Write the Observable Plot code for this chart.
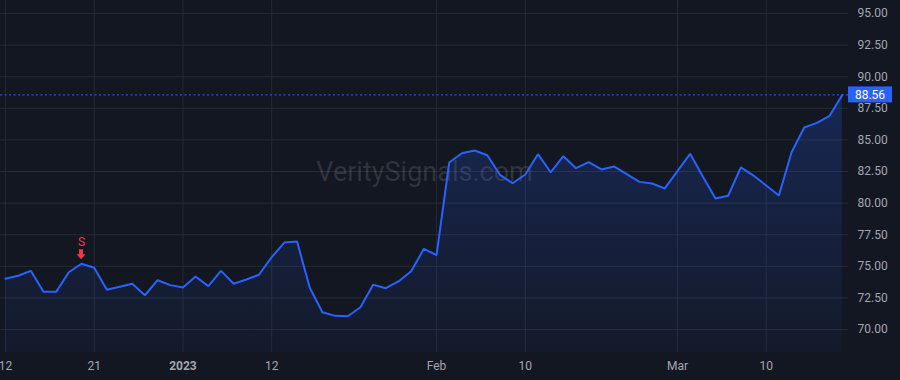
<!DOCTYPE html>
<html><head><meta charset="utf-8">
<script src="https://cdn.jsdelivr.net/npm/d3@7"></script>
<script src="https://cdn.jsdelivr.net/npm/@observablehq/plot@0.6"></script>
<style>
html,body{margin:0;padding:0;background:#131722;}
#chart{width:900px;height:380px;overflow:hidden;}
svg{display:block;}
</style></head><body><div id="chart"></div>
<script>
const dates = [
  "2022-12-12","2022-12-13","2022-12-14","2022-12-15","2022-12-16","2022-12-19","2022-12-20","2022-12-21","2022-12-22","2022-12-23","2022-12-27","2022-12-28","2022-12-29","2022-12-30",
  "2023-01-03","2023-01-04","2023-01-05","2023-01-06","2023-01-09","2023-01-10","2023-01-11","2023-01-12","2023-01-13","2023-01-17","2023-01-18","2023-01-19","2023-01-20","2023-01-23","2023-01-24","2023-01-25","2023-01-26","2023-01-27","2023-01-30","2023-01-31",
  "2023-02-01","2023-02-02","2023-02-03","2023-02-06","2023-02-07","2023-02-08","2023-02-09","2023-02-10","2023-02-13","2023-02-14","2023-02-15","2023-02-16","2023-02-17","2023-02-21","2023-02-22","2023-02-23","2023-02-24","2023-02-27","2023-02-28",
  "2023-03-01","2023-03-02","2023-03-03","2023-03-06","2023-03-07","2023-03-08","2023-03-09","2023-03-10","2023-03-13","2023-03-14","2023-03-15","2023-03-16","2023-03-17","2023-03-20"
];
const closes = [
  74.01,74.25,74.64,72.98,72.98,74.53,75.20,74.88,73.14,73.38,73.62,72.71,73.90,73.51,
  73.32,74.19,73.43,74.64,73.62,73.96,74.33,75.72,76.88,76.96,73.30,71.37,71.08,71.05,71.76,73.54,73.27,73.80,74.61,76.38,
  75.88,83.21,83.95,84.16,83.79,82.24,81.57,82.26,83.87,82.44,83.71,82.76,83.24,82.66,82.90,82.29,81.68,81.55,81.16,
  82.53,83.90,82.10,80.36,80.58,82.82,82.18,81.39,80.60,84.03,85.98,86.35,86.91,88.56
];
const tickDates = ["2022-12-12","2022-12-21","2023-01-03","2023-01-12","2023-02-01","2023-02-10","2023-03-01","2023-03-10"];
const tickLabels = ["12","21","2023","12","Feb","10","Mar","10"];
const boldLabels = ["2023"];
const yTicks = [70,72.5,75,77.5,80,82.5,85,87.5,90,92.5,95];
const signalDates = ["2022-12-20"];
const signalLabels = ["S"];
const watermark = "VeritySignals.com";

const data = dates.map((d, i) => ({i, date: d, close: closes[i]}));
const tickIdx = tickDates.map(d => dates.indexOf(d));
const labelOf = new Map(tickIdx.map((i, k) => [i, tickLabels[k]]));
const signals = signalDates.map((d, k) => {const i = dates.indexOf(d); return {i, close: closes[i], label: signalLabels[k]};});
const last = data[data.length - 1];
const yDomain = [68.18, 96.03];

const defs = () => {
  const g = d3.create("svg:defs");
  const lg = g.append("linearGradient").attr("id", "areaGrad").attr("x1", 0).attr("y1", 0).attr("x2", 0).attr("y2", 1);
  lg.append("stop").attr("offset", "0%").attr("stop-color", "#2962ff").attr("stop-opacity", 0.22);
  lg.append("stop").attr("offset", "100%").attr("stop-color", "#2962ff").attr("stop-opacity", 0.04);
  return g.node();
};

const chart = Plot.plot({
  width: 900, height: 380,
  marginTop: 0, marginRight: 52, marginBottom: 28, marginLeft: 0,
  style: {background: "#131722", color: "#a3a6af", fontFamily: "Roboto, sans-serif", fontSize: "12px"},
  x: {domain: [-0.39, 66.49], axis: null, label: null},
  y: {domain: yDomain, axis: null, label: null},
  marks: [
    defs,
    Plot.gridY(yTicks, {stroke: "#262a35", strokeOpacity: 1}),
    Plot.gridX(tickIdx, {stroke: "#262a35", strokeOpacity: 1}),
    Plot.text([watermark], {frameAnchor: "middle", dy: -4, fontSize: 27, fill: "#ffffff", fillOpacity: 0.12}),
    Plot.areaY(data, {x: "i", y1: yDomain[0], y2: "close", fill: "url(#areaGrad)"}),
    Plot.lineY(data, {x: "i", y: "close", stroke: "#2962ff", strokeWidth: 2, strokeLinejoin: "miter"}),
    Plot.ruleY([last.close], {stroke: "#2962ff", strokeWidth: 1, strokeDasharray: "2,2.5"}),
    Plot.text(signals, {x: "i", y: "close", text: "label", dy: -22, fill: "#f23645", fontSize: 12}),
    Plot.axisX(tickIdx, {tickSize: 0, tickPadding: 9, tickFormat: i => labelOf.get(i), fill: "#a3a6af", fontSize: 12, label: null}),
    Plot.axisY(yTicks, {anchor: "right", tickSize: 0, tickPadding: 9, tickFormat: d => d.toFixed(2), fill: "#a3a6af", fontSize: 12, textAnchor: "start", label: null})
  ]
});

const svg = d3.select(chart);
svg.selectAll("text").filter(function(){ return boldLabels.includes(this.textContent); }).attr("font-weight", "bold");
const sx = chart.scale("x"), sy = chart.scale("y");
signals.forEach(s => {
  const cx = sx.apply(s.i), t = sy.apply(s.close) - 4;
  svg.append("path")
    .attr("d", `M${cx},${t}L${cx-4.5},${t-5}L${cx-2},${t-5}L${cx-2},${t-10}L${cx+2},${t-10}L${cx+2},${t-5}L${cx+4.5},${t-5}Z`)
    .attr("fill", "#f23645");
});
const py = sy.apply(last.close);
const lab = svg.append("g");
lab.append("rect").attr("x", 848).attr("y", py - 8).attr("width", 44).attr("height", 16).attr("fill", "#2962ff");
lab.append("text").attr("x", 870).attr("y", py).attr("dy", "0.35em").attr("text-anchor", "middle")
  .attr("fill", "#ffffff").attr("font-size", 12).attr("font-family", "Roboto, sans-serif").text(last.close.toFixed(2));

document.getElementById("chart").appendChild(chart);
</script>
</body></html>
